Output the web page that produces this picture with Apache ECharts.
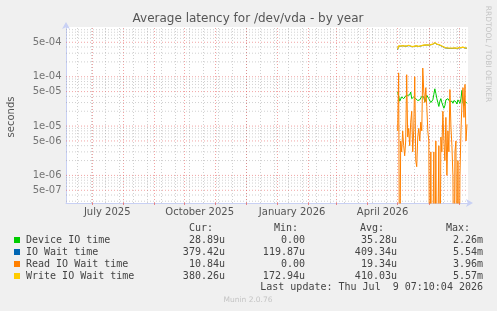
<!DOCTYPE html>
<html>
<head>
<meta charset="utf-8">
<script src="https://cdn.jsdelivr.net/npm/echarts@6.0.0/dist/echarts.min.js"></script>
<style>
  html, body { margin: 0; padding: 0; background: #f0f0f0; }
  #chart { width: 497px; height: 311px; }
</style>
</head>
<body>
<div id="chart"></div>
<script>
// one value per day, from 2026-05-01 to 2026-07-09 (seconds)
var startDay = '2026-05-01';
var dayCount = 70;

var deviceIO = [
    4.9e-5, 4.1e-5, 3.2e-5, 3.5e-5, 3.9e-5, 3.7e-5, 3.6e-5, 3.9e-5, 4.1e-5, 3.8e-5,
    4.2e-5, 4.0e-5, 4.3e-5, 4.9e-5, 3.6e-5, 3.7e-5, 3.9e-5, 4.1e-5, 3.6e-5, 3.8e-5,
    3.3e-5, 3.6e-5, 3.4e-5, 3.7e-5, 4.0e-5, 4.2e-5, 3.9e-5, 3.1e-5, 3.5e-5, 4.2e-5,
    3.9e-5, 3.6e-5, 3.3e-5, 3.0e-5, 2.9e-5, 3.4e-5, 4.4e-5, 5.7e-5, 4.6e-5, 3.6e-5,
    3.0e-5, 2.5e-5, 3.2e-5, 3.6e-5, 3.0e-5, 2.9e-5, 2.3e-5, 2.6e-5, 3.4e-5, 3.1e-5,
    3.6e-5, 3.3e-5, 3.1e-5, 3.4e-5, 3.2e-5, 2.9e-5, 3.3e-5, 3.6e-5, 3.1e-5, 2.8e-5,
    3.4e-5, 3.2e-5, 2.9e-5, 3.6e-5, 5.3e-5, 3.0e-5, 2.6e-5, 3.2e-5, 3.0e-5, 2.89e-5
];

var ioWait = [
    3.55e-4, 4.15e-4, 4.2e-4, 4.15e-4, 4.15e-4, 4.25e-4, 4.2e-4, 4.15e-4, 4.1e-4, 4.15e-4,
    4.25e-4, 4.3e-4, 4.15e-4, 4.15e-4, 4.1e-4, 4.05e-4, 4.1e-4, 4.15e-4, 4.15e-4, 4.2e-4,
    4.15e-4, 4.1e-4, 4.15e-4, 4.2e-4, 4.25e-4, 4.3e-4, 4.35e-4, 4.35e-4, 4.25e-4, 4.4e-4,
    4.45e-4, 4.35e-4, 4.4e-4, 4.45e-4, 4.5e-4, 4.55e-4, 4.65e-4, 4.85e-4, 4.75e-4, 4.55e-4,
    4.65e-4, 4.45e-4, 4.35e-4, 4.25e-4, 4.15e-4, 4.05e-4, 3.95e-4, 3.85e-4, 3.85e-4, 3.8e-4,
    3.85e-4, 3.75e-4, 3.8e-4, 3.75e-4, 3.7e-4, 3.75e-4, 3.85e-4, 3.8e-4, 3.75e-4, 3.7e-4,
    3.75e-4, 3.85e-4, 3.8e-4, 3.85e-4, 4.05e-4, 3.95e-4, 3.85e-4, 3.8e-4, 3.75e-4, 3.79e-4
];

var readIOWait = [
    8e-6, 1.2e-4, 0, 5e-6, 3e-6, 8e-6, 4e-6, 2.5e-6, 5e-6, 1.1e-4,
    6e-6, 9e-6, 4e-6, 1.2e-5, 2e-5, 3e-6, 8e-6, 1.0e-4, 2e-6, 1.5e-6,
    6e-6, 9e-6, 5e-6, 1.2e-5, 8e-6, 1.5e-4, 5e-5, 3e-5, 6e-5, 2.5e-5,
    8e-6, 5e-6, 0, 3e-6, 0, 0, 3e-6, 0, 5e-6, 0,
    0, 4e-6, 0, 6e-6, 3e-6, 2e-5, 5e-6, 2e-6, 1.5e-5, 1e-6,
    8e-6, 3e-6, 5.5e-5, 1e-5, 4e-6, 1e-6, 0, 3e-6, 5e-6, 0,
    2e-6, 0, 1e-6, 8e-6, 3e-5, 6e-5, 1.5e-5, 7e-5, 5e-6, 1.084e-5
];

var writeIOWait = [
    3.6e-4, 4.2e-4, 4.25e-4, 4.2e-4, 4.2e-4, 4.3e-4, 4.25e-4, 4.2e-4, 4.15e-4, 4.2e-4,
    4.3e-4, 4.35e-4, 4.2e-4, 4.2e-4, 4.15e-4, 4.1e-4, 4.15e-4, 4.2e-4, 4.2e-4, 4.25e-4,
    4.2e-4, 4.15e-4, 4.2e-4, 4.25e-4, 4.3e-4, 4.35e-4, 4.4e-4, 4.4e-4, 4.3e-4, 4.45e-4,
    4.5e-4, 4.4e-4, 4.45e-4, 4.5e-4, 4.55e-4, 4.6e-4, 4.7e-4, 4.9e-4, 4.8e-4, 4.6e-4,
    4.7e-4, 4.5e-4, 4.4e-4, 4.3e-4, 4.2e-4, 4.1e-4, 4.0e-4, 3.9e-4, 3.9e-4, 3.85e-4,
    3.9e-4, 3.8e-4, 3.85e-4, 3.8e-4, 3.75e-4, 3.8e-4, 3.9e-4, 3.85e-4, 3.8e-4, 3.75e-4,
    3.8e-4, 3.9e-4, 3.85e-4, 3.9e-4, 4.1e-4, 4.0e-4, 3.9e-4, 3.85e-4, 3.8e-4, 3.8026e-4
];

// y axis ticks
var yTickValues = [5e-7, 1e-6, 5e-6, 1e-5, 5e-5, 1e-4, 5e-4];
var yTickLabels = ['5e-07', '1e-06', '5e-06', '1e-05', '5e-05', '1e-04', '5e-04'];

// x axis: month starts (red grid) and month labels (centred mid month)
var monthStarts = ['2025-06-01', '2025-07-01', '2025-08-01', '2025-09-01', '2025-10-01', '2025-11-01',
    '2025-12-01', '2026-01-01', '2026-02-01', '2026-03-01', '2026-04-01', '2026-05-01',
    '2026-06-01', '2026-07-01'];
var xLabelDates = ['2025-07-16', '2025-10-16', '2026-01-16', '2026-04-16'];
var xLabelTexts = ['July 2025', 'October 2025', 'January 2026', 'April 2026'];

// legend table
var legendNames = ['Device IO time', 'IO Wait time', 'Read IO Wait time', 'Write IO Wait time'];
var legendColors = ['#00cc00', '#0066b3', '#ff8000', '#ffcc00'];
var curVals = ['28.89u', '379.42u', '10.84u', '380.26u'];
var minVals = ['0.00', '119.87u', '0.00', '172.94u'];
var avgVals = ['35.28u', '409.34u', '19.34u', '410.03u'];
var maxVals = ['2.26m', '5.54m', '3.96m', '5.57m'];
var lastUpdate = 'Last update: Thu Jul  9 07:10:04 2026';

var MONO = '10px "DejaVu Sans Mono"';
var SANS = '"DejaVu Sans"';

var xMin = '2025-06-05';
var xMax = '2026-07-10';
var yMin = 2.76e-7;
var yMax = 1.02e-3;

function dayTime(str) {
    var p = str.split('-');
    return new Date(+p[0], +p[1] - 1, +p[2]).getTime();
}

// zero can not be drawn on a log axis: push it far below the bottom
function toPoints(values) {
    var t0 = dayTime(startDay);
    var pts = [];
    for (var i = 0; i < dayCount; i++) {
        var v = values[i] > 0 ? values[i] : 1e-9;
        pts.push([t0 + i * 86400000, v]);
    }
    return pts;
}

var MINOR = { color: 'rgba(150,150,150,0.45)', type: [1, 2], width: 1 };
var MAJOR = { color: 'rgba(230,90,90,0.55)', type: [1, 2], width: 1 };

// horizontal grid lines, drawn as flat line series across the plot
var gridSeries = [];
function hLine(v, style) {
    gridSeries.push({
        type: 'line',
        data: [[dayTime(xMin), v], [dayTime(xMax), v]],
        showSymbol: false,
        symbol: 'none',
        silent: true,
        z: 1,
        lineStyle: style,
        animation: false
    });
}
for (var e = -7; e <= -3; e++) {
    [2, 3, 4, 6, 7, 8, 9].forEach(function (m) {
        var v = m * Math.pow(10, e);
        if (v > yMin && v < yMax) hLine(v, MINOR);
    });
}
yTickValues.forEach(function (v) { hLine(v, MAJOR); });

// vertical grid lines
var vLines = [];
var t = dayTime('2025-06-16');
while (t < dayTime(xMax)) {
    vLines.push({ xAxis: t, label: { show: false }, lineStyle: MINOR });
    t += 14 * 86400000;
}
monthStarts.forEach(function (d) {
    if (dayTime(d) > dayTime(xMin)) {
        vLines.push({ xAxis: dayTime(d), label: { show: false }, lineStyle: MAJOR });
    }
});

// legend / stats as text
var graphics = [
    { type: 'text', x: 248, y: 19, style: { text: 'Average latency for /dev/vda - by year',
        font: '12px ' + SANS, fill: '#555', align: 'center', verticalAlign: 'middle' } },
    { type: 'text', x: 11, y: 117, rotation: Math.PI / 2, style: { text: 'seconds',
        font: '10px ' + SANS, fill: '#555', align: 'center', verticalAlign: 'middle' } },
    { type: 'text', x: 488, y: 54, rotation: -Math.PI / 2, style: { text: 'RRDTOOL / TOBI OETIKER',
        font: '7.5px ' + SANS, fill: '#c4c4c4', align: 'center', verticalAlign: 'middle' } },
    { type: 'text', x: 213, y: 228, style: { text: 'Cur:', font: MONO, fill: '#444', align: 'right', verticalAlign: 'middle' } },
    { type: 'text', x: 298, y: 228, style: { text: 'Min:', font: MONO, fill: '#444', align: 'right', verticalAlign: 'middle' } },
    { type: 'text', x: 384, y: 228, style: { text: 'Avg:', font: MONO, fill: '#444', align: 'right', verticalAlign: 'middle' } },
    { type: 'text', x: 470, y: 228, style: { text: 'Max:', font: MONO, fill: '#444', align: 'right', verticalAlign: 'middle' } },
    { type: 'text', x: 483, y: 287.5, style: { text: lastUpdate, font: MONO, fill: '#444', align: 'right', verticalAlign: 'middle' } },
    { type: 'text', x: 248, y: 300.5, style: { text: 'Munin 2.0.76', font: '7.5px ' + SANS, fill: '#c4c4c4', align: 'center', verticalAlign: 'middle' } }
];
for (var i = 0; i < legendNames.length; i++) {
    var y = 240 + i * 12;
    graphics.push({ type: 'rect', shape: { x: 14, y: y - 3, width: 6, height: 6 }, style: { fill: legendColors[i] } });
    graphics.push({ type: 'text', x: 26, y: y, style: { text: legendNames[i], font: MONO, fill: '#444', verticalAlign: 'middle' } });
    graphics.push({ type: 'text', x: 225, y: y, style: { text: curVals[i], font: MONO, fill: '#444', align: 'right', verticalAlign: 'middle' } });
    graphics.push({ type: 'text', x: 305, y: y, style: { text: minVals[i], font: MONO, fill: '#444', align: 'right', verticalAlign: 'middle' } });
    graphics.push({ type: 'text', x: 397, y: y, style: { text: avgVals[i], font: MONO, fill: '#444', align: 'right', verticalAlign: 'middle' } });
    graphics.push({ type: 'text', x: 483, y: y, style: { text: maxVals[i], font: MONO, fill: '#444', align: 'right', verticalAlign: 'middle' } });
}

function dataSeries(name, values, color, width) {
    return {
        name: name,
        type: 'line',
        data: toPoints(values),
        showSymbol: false,
        symbol: 'none',
        clip: true,
        z: 3,
        lineStyle: { color: color, width: width || 1 },
        itemStyle: { color: color },
        animation: false
    };
}

var chart = echarts.init(document.getElementById('chart'), null, { renderer: 'canvas' });

var axisLine = { show: true, lineStyle: { color: '#c8d0f4', width: 1 },
    symbol: ['none', 'arrow'], symbolSize: [6, 7], symbolOffset: [0, 5] };

var option = {
    backgroundColor: '#f0f0f0',
    animation: false,
    textStyle: { fontFamily: 'DejaVu Sans' },
    grid: {
        left: 66, top: 27, width: 402, height: 176,
        show: true, backgroundColor: '#ffffff', borderWidth: 0
    },
    xAxis: [
        {
            // data axis
            type: 'time',
            min: dayTime(xMin),
            max: dayTime(xMax),
            splitLine: { show: false },
            axisLine: axisLine,
            axisTick: { show: false },
            axisLabel: { show: false }
        },
        {
            // label axis, same range as plain numbers
            type: 'value',
            position: 'bottom',
            min: dayTime(xMin),
            max: dayTime(xMax),
            splitLine: { show: false },
            axisLine: { show: false },
            axisTick: { show: true, customValues: monthStarts.map(dayTime), length: 2,
                lineStyle: { color: 'rgba(230,90,90,0.7)' } },
            axisLabel: {
                customValues: xLabelDates.map(dayTime),
                formatter: function (v) {
                    var k = xLabelDates.map(dayTime).indexOf(v);
                    return k >= 0 ? xLabelTexts[k] : '';
                },
                color: '#555', fontSize: 10, fontFamily: 'DejaVu Sans', margin: 4
            }
        }
    ],
    yAxis: {
        type: 'log',
        logBase: 10,
        min: yMin,
        max: yMax,
        splitLine: { show: false },
        axisTick: { show: false },
        axisLabel: { show: false },
        axisLine: axisLine
    },
    graphic: graphics,
    series: gridSeries.concat([
        {
            // vertical grid
            name: 'vgrid',
            type: 'line',
            data: [],
            z: 1,
            silent: true,
            markLine: {
                silent: true,
                animation: false,
                symbol: ['none', 'none'],
                z: 1,
                data: vLines
            }
        },
        {
            // y tick labels sit on the left edge of the plot
            name: 'ylabels',
            type: 'scatter',
            data: yTickValues.map(function (v) { return [dayTime(xMin), v]; }),
            symbolSize: 1,
            itemStyle: { color: 'rgba(0,0,0,0)' },
            silent: true,
            clip: false,
            z: 2,
            label: {
                show: true,
                position: 'left',
                distance: 4,
                color: '#555',
                fontSize: 10,
                fontFamily: 'DejaVu Sans',
                formatter: function (p) { return yTickLabels[p.dataIndex]; }
            },
            animation: false
        },
        dataSeries(legendNames[0], deviceIO, legendColors[0]),
        dataSeries(legendNames[1], ioWait, legendColors[1]),
        dataSeries(legendNames[2], readIOWait, legendColors[2]),
        dataSeries(legendNames[3], writeIOWait, legendColors[3], 1.3)
    ])
};

chart.setOption(option);
</script>
</body>
</html>
